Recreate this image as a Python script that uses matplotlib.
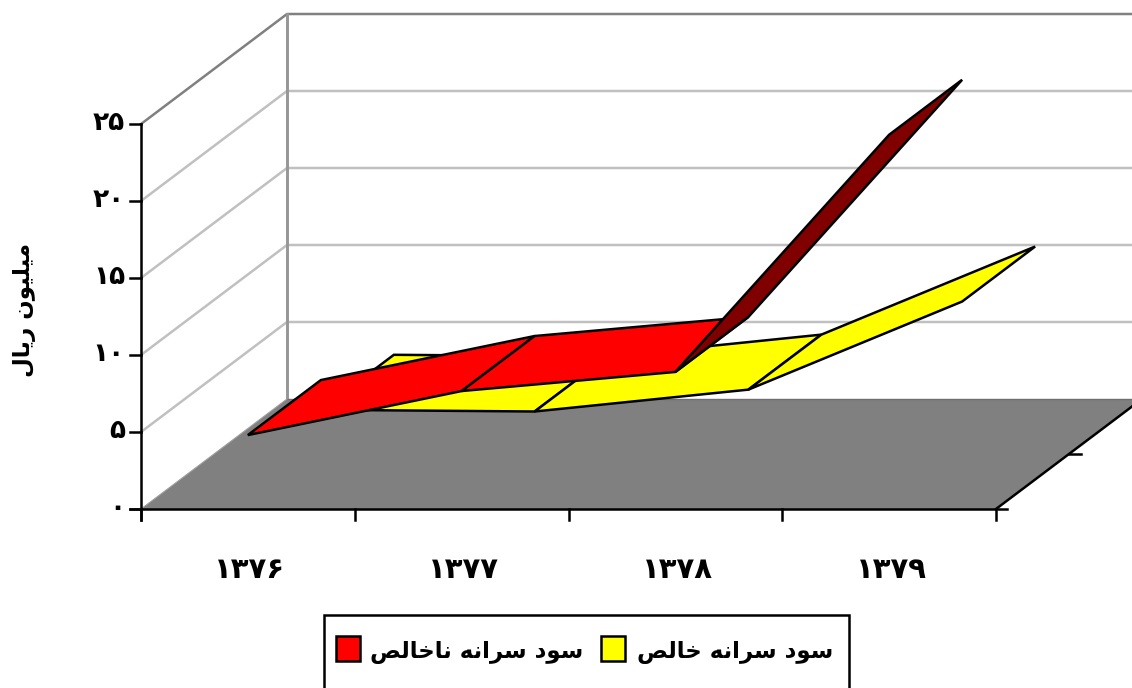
import matplotlib
matplotlib.use("Agg")
import matplotlib.pyplot as plt
from matplotlib.patches import Polygon, Rectangle

# data
years = ["۱۳۷۶", "۱۳۷۷", "۱۳۷۸", "۱۳۷۹"]
gross_profit = [4.8, 7.66, 8.9, 24.3]
net_profit = [2.87, 2.76, 4.18, 9.9]
y_ticks = [0, 5, 10, 15, 20, 25]
y_tick_labels = ["۰", "۵", "۱۰", "۱۵", "۲۰", "۲۵"]
y_title = "میلیون ریال"
gross_name = "سود سرانه ناخالص"
net_name = "سود سرانه خالص"

# oblique projection of the 3d box, in pixels
X0, Y0 = 141, 509
CAT_W = 855 / 4
PX_PER_UNIT = 385 / 25
DEPTH_X, DEPTH_Y = 146, -110


def project(cat, value, depth):
    x = X0 + cat * CAT_W + depth * DEPTH_X
    y = Y0 - value * PX_PER_UNIT + depth * DEPTH_Y
    return x, y


# matplotlib does no arabic shaping: forms are isolated, final, initial, medial
FORMS = {
    "ا": (0xFE8D, 0xFE8E, None, None),
    "د": (0xFEA9, 0xFEAA, None, None),
    "ر": (0xFEAD, 0xFEAE, None, None),
    "و": (0xFEED, 0xFEEE, None, None),
    "س": (0xFEB1, 0xFEB2, 0xFEB3, 0xFEB4),
    "ن": (0xFEE5, 0xFEE6, 0xFEE7, 0xFEE8),
    "ه": (0xFEE9, 0xFEEA, 0xFEEB, 0xFEEC),
    "خ": (0xFEA5, 0xFEA6, 0xFEA7, 0xFEA8),
    "ل": (0xFEDD, 0xFEDE, 0xFEDF, 0xFEE0),
    "ص": (0xFEB9, 0xFEBA, 0xFEBB, 0xFEBC),
    "م": (0xFEE1, 0xFEE2, 0xFEE3, 0xFEE4),
    "ی": (0xFBFC, 0xFBFD, 0xFBFE, 0xFBFF),
}


def shape(text):
    out = []
    for i, ch in enumerate(text):
        if ch not in FORMS:
            out.append(ch)
            continue
        prev = text[i - 1] if i > 0 else " "
        nxt = text[i + 1] if i < len(text) - 1 else " "
        from_prev = prev in FORMS and FORMS[prev][2] is not None
        to_next = nxt in FORMS and FORMS[ch][2] is not None
        idx = 3 if from_prev and to_next else 1 if from_prev else 2 if to_next else 0
        out.append(chr(FORMS[ch][idx]))
    return "".join(out[::-1])


plt.rcParams["font.family"] = "DejaVu Sans"
fig = plt.figure(figsize=(11.32, 6.88), dpi=100)
ax = fig.add_axes([0, 0, 1, 1])
ax.set_xlim(0, 1132)
ax.set_ylim(688, 0)
ax.axis("off")

LW = 1.8
top = y_ticks[-1]
n = len(years)

# gridlines on side and back wall
for v in y_ticks[1:-1]:
    a, b, c = project(0, v, 0), project(0, v, 1), project(n, v, 1)
    ax.plot([a[0], b[0], c[0]], [a[1], b[1], c[1]], color="#c0c0c0", lw=LW, zorder=1)

# wall edges
a, b, c = project(0, top, 0), project(0, top, 1), project(n, top, 1)
ax.plot([a[0], b[0], c[0]], [a[1], b[1], c[1]], color="#808080", lw=LW, zorder=2)
a = project(0, 0, 1)
ax.plot([a[0], b[0]], [a[1], b[1]], color="#969696", lw=LW + 0.3, zorder=2)

# floor
floor = [project(0, 0, 0), project(n, 0, 0), project(n, 0, 1), project(0, 0, 1)]
ax.add_patch(Polygon(floor, closed=True, fc="#808080", ec="none", zorder=3))
a, b = project(0, 0, 1), project(n, 0, 1)
ax.plot([a[0], b[0]], [a[1], b[1]], color="#6e6e6e", lw=1, zorder=3)
a = project(0, 0, 0)
b = project(0, 0, 1)
ax.plot([a[0], b[0]], [a[1], b[1]], color="#a0a0a0", lw=0.8, zorder=3)


def ribbon(values, d0, d1, color, dark, zorder):
    for i in range(len(values) - 1):
        pts = [project(i + 0.5, values[i], d0), project(i + 1.5, values[i + 1], d0),
               project(i + 1.5, values[i + 1], d1), project(i + 0.5, values[i], d1)]
        # the steep last stretch shows its underside
        face = dark if values[i + 1] - values[i] > 10 else color
        ax.add_patch(Polygon(pts, closed=True, fc=face, ec="black", lw=LW,
                             joinstyle="miter", zorder=zorder + i * 0.1))


ribbon(net_profit, 0.5, 1, "#ffff00", "#800000", 4)
ribbon(gross_profit, 0, 0.5, "#ff0000", "#800000", 5)

# axes lines and ticks
a, b = project(0, 0, 0), project(0, top, 0)
ax.plot([a[0], b[0]], [a[1] + 11, b[1]], color="black", lw=LW, zorder=6)
a, b = project(0, 0, 0), project(n, 0, 0)
ax.plot([a[0] - 11, b[0] + 11], [a[1], b[1]], color="black", lw=LW, zorder=6)
a, b = project(n, 0, 0), project(n, 0, 1)
ax.plot([a[0], b[0]], [a[1], b[1]], color="black", lw=LW, zorder=6)
a = project(n, 0, 0.5)
ax.plot([a[0], a[0] + 12], [a[1], a[1]], color="black", lw=LW, zorder=2)

for v, label in zip(y_ticks, y_tick_labels):
    x, y = project(0, v, 0)
    ax.plot([x - 11, x], [y, y], color="black", lw=LW, zorder=6)
    ax.text(x - 16, y - 1, label, ha="right", va="center", fontsize=19, fontweight="bold")

for i in range(n + 1):
    x, y = project(i, 0, 0)
    ax.plot([x, x], [y, y + 11], color="black", lw=LW, zorder=6)
for i, label in enumerate(years):
    x, y = project(i + 0.5, 0, 0)
    ax.text(x + 2, 570, label, ha="center", va="center", fontsize=21, fontweight="bold")

ax.text(25, 310, shape(y_title), rotation=90, ha="center", va="center",
        fontsize=16.5, fontweight="bold")

# legend box runs off the bottom of the picture
ax.add_patch(Rectangle((323.5, 614.5), 525, 90, fc="white", ec="black", lw=LW, zorder=6))
ax.add_patch(Rectangle((336, 636), 24, 25, fc="#ff0000", ec="black", lw=LW, zorder=7))
ax.add_patch(Rectangle((601, 636), 24, 25, fc="#ffff00", ec="black", lw=LW, zorder=7))
ax.text(583, 652, shape(gross_name), ha="right", va="center", fontsize=16.5,
        fontweight="bold", zorder=7)
ax.text(833, 652, shape(net_name), ha="right", va="center", fontsize=16.5,
        fontweight="bold", zorder=7)

fig.savefig("out.png", dpi=100)
